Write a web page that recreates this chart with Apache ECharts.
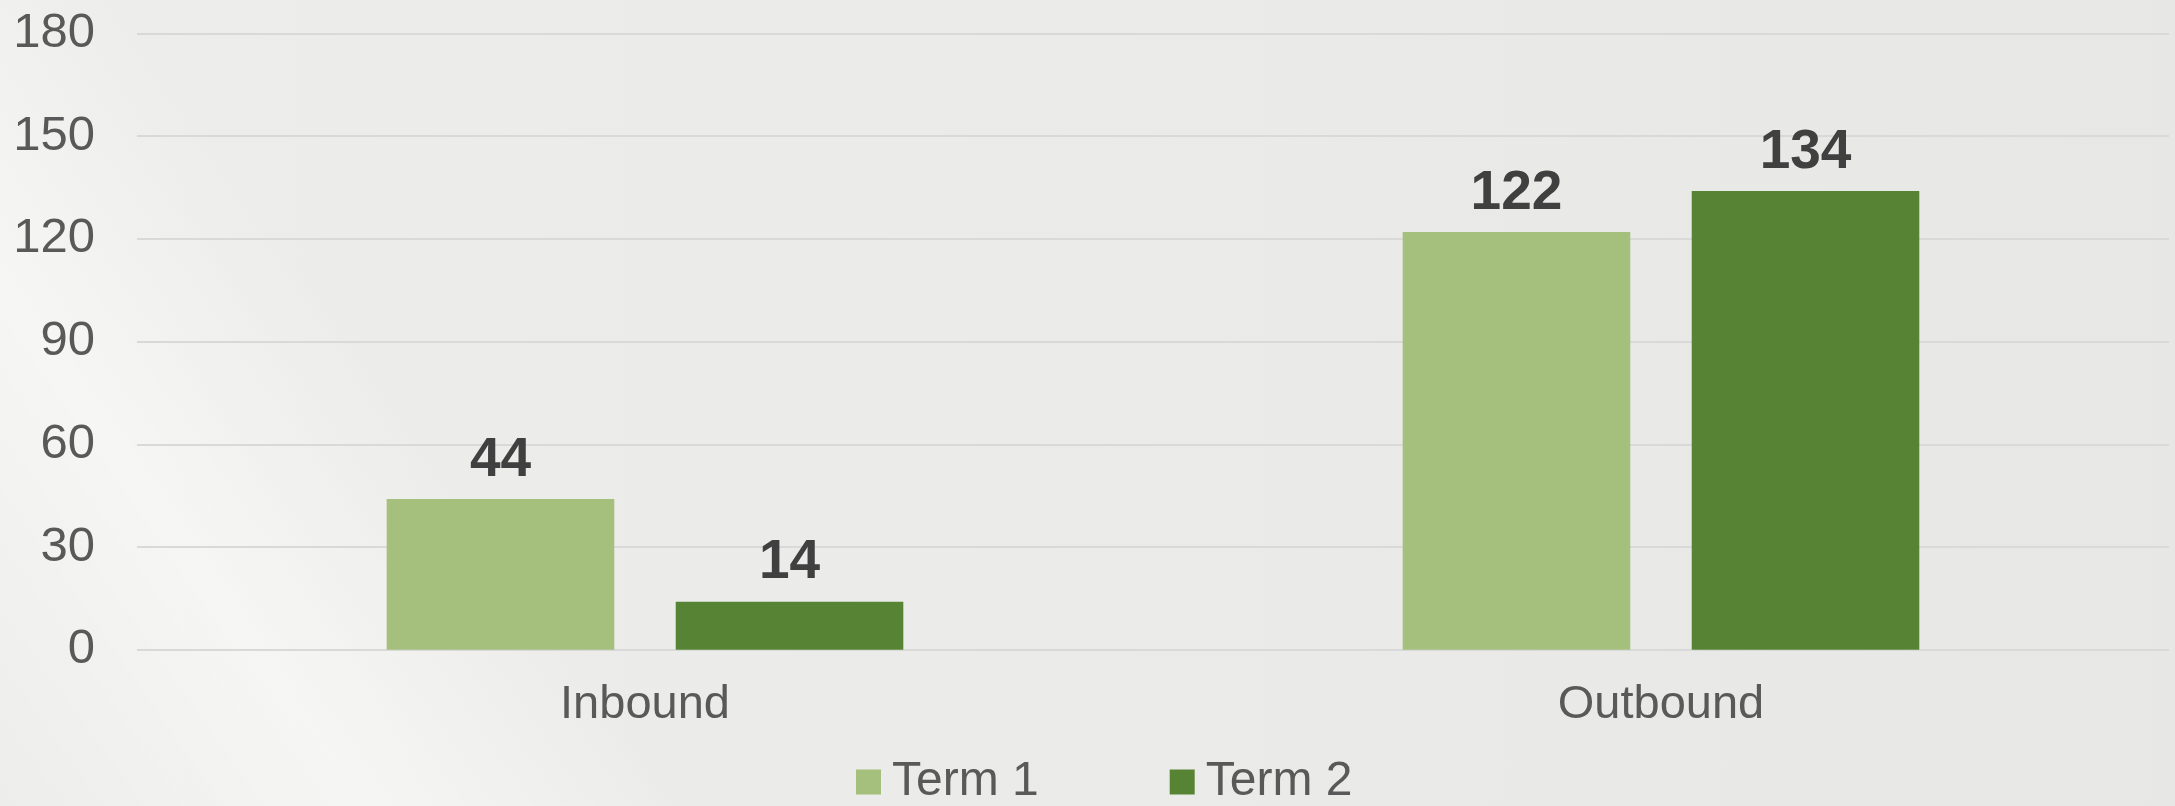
<!DOCTYPE html>
<html>
<head>
<meta charset="utf-8">
<script src="https://cdn.jsdelivr.net/npm/echarts@6/dist/echarts.min.js"></script>
<style>
  html, body { margin: 0; padding: 0; }
  #chart {
    width: 2175px; height: 806px;
    background:
      linear-gradient(55deg, rgba(255,255,255,0) 0px, rgba(255,255,255,0.5) 300px, rgba(255,255,255,0) 560px, rgba(255,255,255,0) 100%),
      linear-gradient(to right, #ededeb 0%, #eaeae8 60%, #e7e7e5 100%);
  }
</style>
</head>
<body>
<div id="chart"></div>
<script>
const categories = ['Inbound', 'Outbound'];
const seriesNames = ['Term 1', 'Term 2'];
const term1 = [44, 122];
const term2 = [14, 134];
const yTicks = { min: 0, max: 180, interval: 30 };

const FONT = "'Liberation Sans', Arial, sans-serif";
const chart = echarts.init(document.getElementById('chart'), null, { renderer: 'canvas' });

const labelStyle = {
  show: true, position: 'top', distance: 11,
  color: '#404040', fontSize: 55, fontWeight: 'bold', fontFamily: FONT
};

chart.setOption({
  backgroundColor: 'transparent',
  animation: false,
  grid: { left: 137, right: 6, top: 33.5, bottom: 156.3, containLabel: false },
  legend: {
    data: seriesNames,
    left: 856, top: 758, padding: 0,
    itemWidth: 25, itemHeight: 25, itemGap: 131,
    icon: 'rect',
    textStyle: { color: '#595959', fontSize: 48, fontFamily: FONT, padding: [0, 0, 0, 6] }
  },
  xAxis: {
    type: 'category',
    data: categories,
    axisLine: { show: false },
    axisTick: { show: false },
    axisLabel: { color: '#595959', fontSize: 47, fontFamily: FONT, margin: 32 }
  },
  yAxis: {
    type: 'value',
    min: yTicks.min, max: yTicks.max, interval: yTicks.interval,
    axisLine: { show: false },
    axisTick: { show: false },
    axisLabel: { color: '#595959', fontSize: 49, fontFamily: FONT, margin: 42 },
    splitLine: { lineStyle: { color: '#d9d9d9', width: 2 } }
  },
  series: [
    {
      name: seriesNames[0], type: 'bar', data: term1,
      barWidth: '22.4%', barGap: '27%',
      itemStyle: { color: '#a5bf7c' },
      label: labelStyle
    },
    {
      name: seriesNames[1], type: 'bar', data: term2,
      barWidth: '22.4%', barGap: '27%',
      itemStyle: { color: '#578434' },
      label: labelStyle
    }
  ]
});
</script>
</body>
</html>
